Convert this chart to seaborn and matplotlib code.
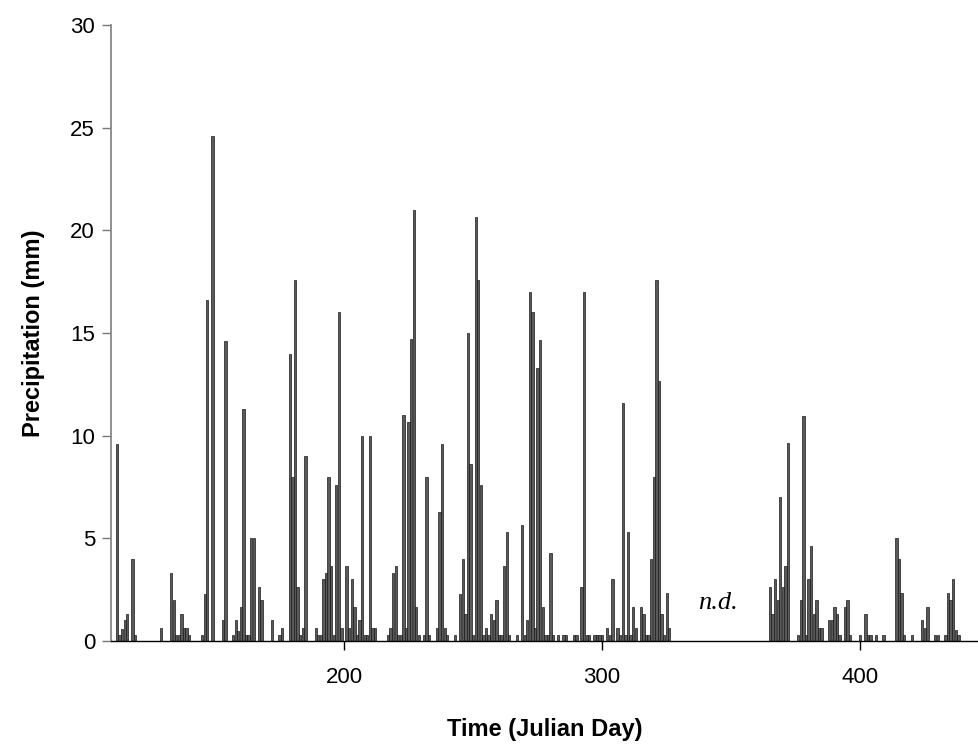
import matplotlib
matplotlib.use("Agg")
import matplotlib.pyplot as plt
import seaborn as sns
import pandas as pd

days = [112, 113, 114, 115, 116, 118, 119, 129, 133, 134, 135, 136, 137, 138, 139, 140,
        145, 146, 147, 149, 153, 154, 157, 158, 159, 160, 161, 162, 163, 164, 165, 167,
        168, 172, 175, 176, 179, 180, 181, 182, 183, 184, 185, 189, 190, 191, 192, 193,
        194, 195, 196, 197, 198, 199, 201, 202, 203, 204, 205, 206, 207, 208, 209, 210,
        211, 212, 217, 218, 219, 220, 221, 222, 223, 224, 225, 226, 227, 228, 229, 231,
        232, 233, 236, 237, 238, 239, 240, 243, 245, 246, 247, 248, 249, 250, 251, 252,
        253, 254, 255, 256, 257, 258, 259, 260, 261, 262, 263, 264, 267, 269, 270, 271,
        272, 273, 274, 275, 276, 277, 278, 279, 280, 281, 283, 285, 286, 289, 290, 292,
        293, 294, 295, 297, 298, 299, 300, 302, 303, 304, 306, 307, 308, 309, 310, 311,
        312, 313, 315, 316, 317, 318, 319, 320, 321, 322, 323, 324, 325, 326,
        365, 366, 367, 368, 369, 370, 371, 372, 376, 377, 378, 379, 380, 381, 382, 383,
        384, 385, 388, 389, 390, 391, 392, 394, 395, 396, 400, 402, 403, 404, 406, 409,
        414, 415, 416, 417, 420, 424, 425, 426, 429, 430, 433, 434, 435, 436, 437, 438]

precip = [9.6, 0.3, 0.6, 1.0, 1.3, 4.0, 0.3, 0.65, 3.3, 2.0, 0.3, 0.3, 1.3, 0.65, 0.65, 0.3,
          0.3, 2.3, 16.6, 24.6, 1.0, 14.6, 0.3, 1.0, 0.5, 1.66, 11.3, 0.3, 0.3, 5.0, 5.0, 2.65,
          2.0, 1.0, 0.3, 0.65, 14.0, 8.0, 17.6, 2.65, 0.3, 0.65, 9.0, 0.65, 0.3, 0.3, 3.0, 3.3,
          8.0, 3.66, 0.3, 7.6, 16.0, 0.65, 3.66, 0.65, 3.0, 1.66, 0.3, 1.0, 10.0, 0.3, 0.3, 10.0,
          0.65, 0.65, 0.3, 0.65, 3.3, 3.66, 0.3, 0.3, 11.0, 0.65, 10.65, 14.7, 21.0, 1.66, 0.3, 0.3,
          8.0, 0.3, 0.65, 6.3, 9.6, 0.65, 0.3, 0.3, 2.3, 4.0, 1.3, 15.0, 8.6, 0.3, 20.65, 17.6,
          7.6, 0.3, 0.65, 0.3, 1.3, 1.0, 2.0, 0.3, 0.3, 3.66, 5.33, 0.3, 0.3, 5.66, 0.3, 1.0,
          17.0, 16.0, 0.65, 13.3, 14.65, 1.66, 0.3, 0.3, 4.3, 0.3, 0.3, 0.3, 0.3, 0.3, 0.3, 2.65,
          17.0, 0.3, 0.3, 0.3, 0.3, 0.3, 0.3, 0.65, 0.3, 3.0, 0.65, 0.3, 11.6, 0.3, 5.33, 0.3,
          1.66, 0.65, 1.66, 1.3, 0.3, 0.3, 4.0, 8.0, 17.6, 12.65, 1.3, 0.3, 2.33, 0.65,
          2.65, 1.3, 3.0, 2.0, 7.0, 2.65, 3.66, 9.64, 0.3, 2.0, 10.94, 0.3, 3.0, 4.63, 1.3, 2.0,
          0.65, 0.65, 1.0, 1.0, 1.66, 1.3, 0.3, 1.66, 2.0, 0.3, 0.3, 1.3, 0.3, 0.3, 0.3, 0.3,
          5.0, 4.0, 2.33, 0.3, 0.3, 1.0, 0.65, 1.66, 0.3, 0.3, 0.3, 2.33, 2.0, 3.0, 0.55, 0.3]

x_ticks = [200, 300, 400]
y_ticks = [0, 5, 10, 15, 20, 25, 30]
nd_label = "n.d."

df = pd.DataFrame({"day": days, "precip": precip})

sns.set_theme(style="ticks")
plt.rcParams["font.family"] = ["Liberation Sans", "DejaVu Sans"]
plt.rcParams["text.color"] = "black"
plt.rcParams["axes.labelcolor"] = "black"

fig = plt.figure(figsize=(9.79, 7.45), dpi=100)
ax = fig.add_axes([111 / 979, 1 - 641 / 745, 1 - 111 / 979, (641 - 25) / 745])

sns.barplot(data=df, x="day", y="precip", native_scale=True, width=0.9,
            color="#5a5a5a", edgecolor="#1a1a1a", linewidth=0.5,
            errorbar=None, ax=ax)

ax.set_xlim(109.7, 446)
ax.set_ylim(0, 30)
ax.set_xticks(x_ticks)
ax.set_yticks(y_ticks)
ax.tick_params(axis="x", direction="out", length=6.5, width=1, pad=12,
               labelsize=16, color="black", labelcolor="black")
ax.tick_params(axis="y", direction="out", length=6.5, width=1, pad=5,
               labelsize=16, color="#777777", labelcolor="black")

for s in ["top", "right"]:
    ax.spines[s].set_visible(False)
ax.spines["left"].set_color("#888888")
ax.spines["left"].set_linewidth(1.3)
ax.spines["bottom"].set_color("black")
ax.spines["bottom"].set_linewidth(1.0)

ax.set_xlabel("Time (Julian Day)", fontsize=17, fontweight="bold", labelpad=22)
ax.set_ylabel("Precipitation (mm)", fontsize=17, fontweight="bold", labelpad=18)

ax.text(345, 1.85, nd_label, fontsize=19, style="italic", color="black",
        family=["Liberation Serif", "DejaVu Serif"], ha="center", va="center")

fig.savefig("out.png", dpi=100)
